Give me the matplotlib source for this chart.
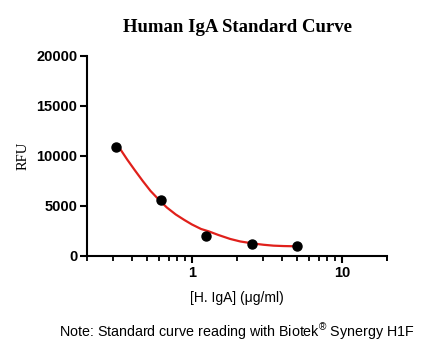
import numpy as np
import matplotlib.pyplot as plt
from matplotlib.ticker import FixedLocator, NullFormatter

# measured standards
conc = [0.3125, 0.625, 1.25, 2.5, 5.0]
rfu = [10930, 5630, 2030, 1170, 1000]

# fitted curve
fit_x = [0.33, 0.37, 0.415, 0.47, 0.53, 0.6, 0.68, 0.78, 0.89, 1.0,
         1.15, 1.3, 1.5, 1.8, 2.1, 2.55, 3.0, 3.5, 4.1, 4.8]
fit_y = [10770, 9650, 8600, 7500, 6500, 5650, 4850, 4150, 3600, 3150,
         2700, 2450, 2100, 1700, 1450, 1250, 1120, 1030, 990, 970]

y_ticks = [0, 5000, 10000, 15000, 20000]
x_ticks = [1, 10]
x_tick_labels = ["1", "10"]

plt.rcParams['mathtext.fontset'] = 'custom'
plt.rcParams['mathtext.rm'] = 'Liberation Sans'

fig = plt.figure(figsize=(4.33, 3.56), dpi=100)
ax = fig.add_axes([0.201, 0.281, 0.693, 0.562])

ax.plot(fit_x, fit_y, color="#e0201b", lw=1.6, zorder=2)
ax.plot(conc, rfu, "o", color="black", ms=6.5, zorder=3)

ax.set_xscale("log")
ax.set_xlim(0.2, 20)
ax.set_ylim(0, 20000)

ax.xaxis.set_major_locator(FixedLocator(x_ticks))
ax.set_xticklabels(x_tick_labels)
minors = [m * d for d in (0.1, 1, 10) for m in range(2, 10)] + [20]
minors = [v for v in minors if 0.2 <= v <= 20]
ax.xaxis.set_minor_locator(FixedLocator(minors))
ax.xaxis.set_minor_formatter(NullFormatter())
ax.set_yticks(y_ticks)

for s in ["top", "right"]:
    ax.spines[s].set_visible(False)
for s in ["left", "bottom"]:
    ax.spines[s].set_linewidth(1.5)

ax.tick_params(which="major", width=1.5, length=5, pad=2)
ax.tick_params(axis="x", which="minor", width=1.3, length=3.5)
for lab in ax.get_xticklabels() + ax.get_yticklabels():
    lab.set_fontfamily("Liberation Sans")
    lab.set_fontweight("bold")
    lab.set_fontsize(10.5)

ax.set_ylabel("RFU", family="Liberation Serif", fontsize=10.5, labelpad=5)
ax.set_xlabel("[H. IgA] (\u03bcg/ml)", family="Liberation Sans", fontsize=10, labelpad=8)
ax.set_title("Human IgA Standard Curve", family="Liberation Serif",
             fontweight="bold", fontsize=13.5, pad=17)

fig.text(0.546, 0.067, r"Note: Standard curve reading with Biotek$^{\circledR}$ Synergy H1F",
         family="Liberation Sans", fontsize=10.3, ha="center", va="center")

fig.savefig("out.png", dpi=100)
